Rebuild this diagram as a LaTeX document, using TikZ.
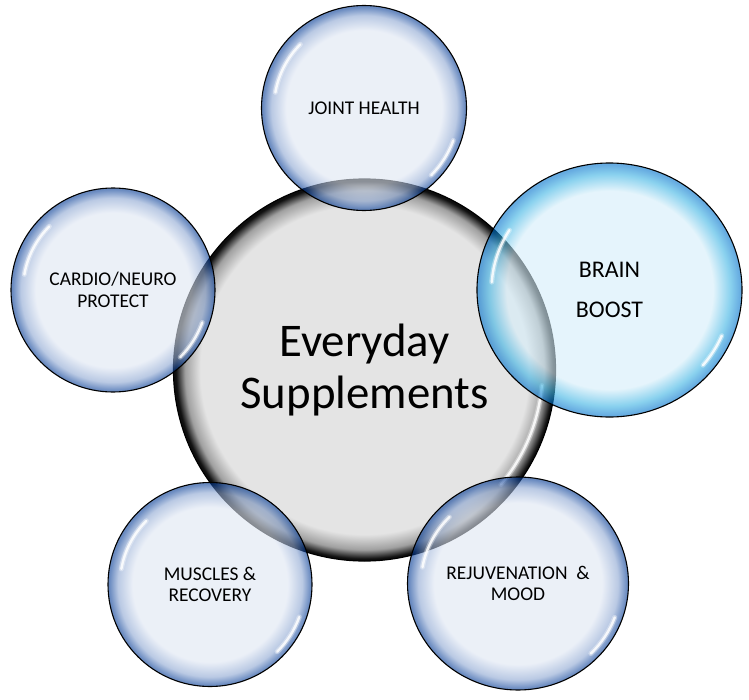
\documentclass[tikz,border=0pt]{standalone}
\usepackage{fontspec}
\setmainfont{Carlito}
\usetikzlibrary{shapes.geometric}
\definecolor{bIn}{RGB}{222,230,243}
\definecolor{bMid}{RGB}{140,166,210}
\definecolor{bRim}{RGB}{5,60,150}
\definecolor{cIn}{RGB}{213,238,250}
\definecolor{cMid}{RGB}{60,180,228}
\definecolor{cRim}{RGB}{0,115,205}
\definecolor{gIn}{RGB}{228,228,228}
\definecolor{gMid}{RGB}{160,160,160}
\definecolor{gRim}{RGB}{15,15,15}
\pgfdeclareradialshading{bubbleshade}{\pgfpoint{0bp}{0bp}}{color(0bp)=(bIn); color(19bp)=(bIn); color(22.6bp)=(bMid); color(24.7bp)=(bRim); color(25bp)=(bRim); color(50bp)=(bRim)}
\pgfdeclareradialshading{brainshade}{\pgfpoint{0bp}{0bp}}{color(0bp)=(cIn); color(19.5bp)=(cIn); color(22.8bp)=(cMid); color(24.7bp)=(cRim); color(25bp)=(cRim); color(50bp)=(cRim)}
\pgfdeclareradialshading{coreshade}{\pgfpoint{0bp}{0bp}}{color(0bp)=(gIn); color(21.5bp)=(gIn); color(23.5bp)=(gMid); color(24.7bp)=(gRim); color(25bp)=(gRim); color(50bp)=(gRim)}
\tikzset{
  centerball/.style={circle, inner sep=0pt, draw=black, line width=1.2bp, shade, shading=coreshade,
    align=center, font=\fontsize{47}{53}\selectfont},
  bubble/.style={circle, inner sep=0pt, draw=black, line width=1.1bp, shade, shading=bubbleshade,
    fill opacity=0.6, draw opacity=1, text opacity=1, align=center,
    font=\fontsize{19.5}{21.5}\selectfont},
  brainbubble/.style={ellipse, inner sep=0pt, draw=black, line width=1.1bp, shade, shading=brainshade,
    fill opacity=0.6, draw opacity=1, text opacity=1, align=center,
    font=\fontsize{24}{40}\selectfont},
  glint/.style={draw=white, line width=2.4bp, opacity=0.85, line cap=round},
  softglint/.style={draw=white, line width=5bp, opacity=0.35, line cap=round}
}
\begin{document}
\begin{tikzpicture}[x=1bp,y=-1bp]
\useasboundingbox (0,0) rectangle (749,700);
\fill[white] (0,0) rectangle (749,700);

\node[centerball, minimum size=382bp] (core) at (364.5,370) {Everyday\\Supplements};
\begin{scope}[shift={(core.center)}]
  \draw[softglint] (5:178) arc[start angle=5, end angle=40, radius=178];
  \draw[glint] (5:178) arc[start angle=5, end angle=40, radius=178];
\end{scope}

\node[bubble, minimum size=205bp] (joint) at (364,108) {JOINT HEALTH};
\node[bubble, minimum size=204bp] (cardio) at (113,290) {CARDIO/NEURO\\PROTECT};
\node[bubble, minimum size=204bp] (muscles) at (210,584.5) {MUSCLES \&\\RECOVERY};
\node[bubble, ellipse, minimum width=221bp, minimum height=213bp] (rejuv) at (518,583.5) {REJUVENATION~~\&\\MOOD};
\node[brainbubble, minimum width=265bp, minimum height=254bp] (brain) at (609.5,290) {BRAIN\\BOOST};

\foreach \n in {joint,cardio,muscles}{
  \begin{scope}[shift={(\n.center)}]
    \draw[softglint] (225:90) arc[start angle=225, end angle=190, radius=90];
    \draw[glint] (225:90) arc[start angle=225, end angle=190, radius=90];
    \draw[softglint] (20:95) arc[start angle=20, end angle=45, radius=95];
    \draw[glint] (20:95) arc[start angle=20, end angle=45, radius=95];
  \end{scope}
}
\begin{scope}[shift={(rejuv.center)}]
  \draw[softglint] (225:97 and 94) arc[start angle=225, end angle=190, x radius=97, y radius=94];
  \draw[glint] (225:97 and 94) arc[start angle=225, end angle=190, x radius=97, y radius=94];
  \draw[softglint] (20:103 and 99) arc[start angle=20, end angle=45, x radius=103, y radius=99];
  \draw[glint] (20:103 and 99) arc[start angle=20, end angle=45, x radius=103, y radius=99];
\end{scope}
\begin{scope}[shift={(brain.center)}]
  \draw[softglint] (212:118 and 113) arc[start angle=212, end angle=184, x radius=118, y radius=113];
  \draw[glint] (212:118 and 113) arc[start angle=212, end angle=184, x radius=118, y radius=113];
  \draw[softglint] (23:122 and 117) arc[start angle=23, end angle=40, x radius=122, y radius=117];
  \draw[glint] (23:122 and 117) arc[start angle=23, end angle=40, x radius=122, y radius=117];
\end{scope}
\end{tikzpicture}
\end{document}
